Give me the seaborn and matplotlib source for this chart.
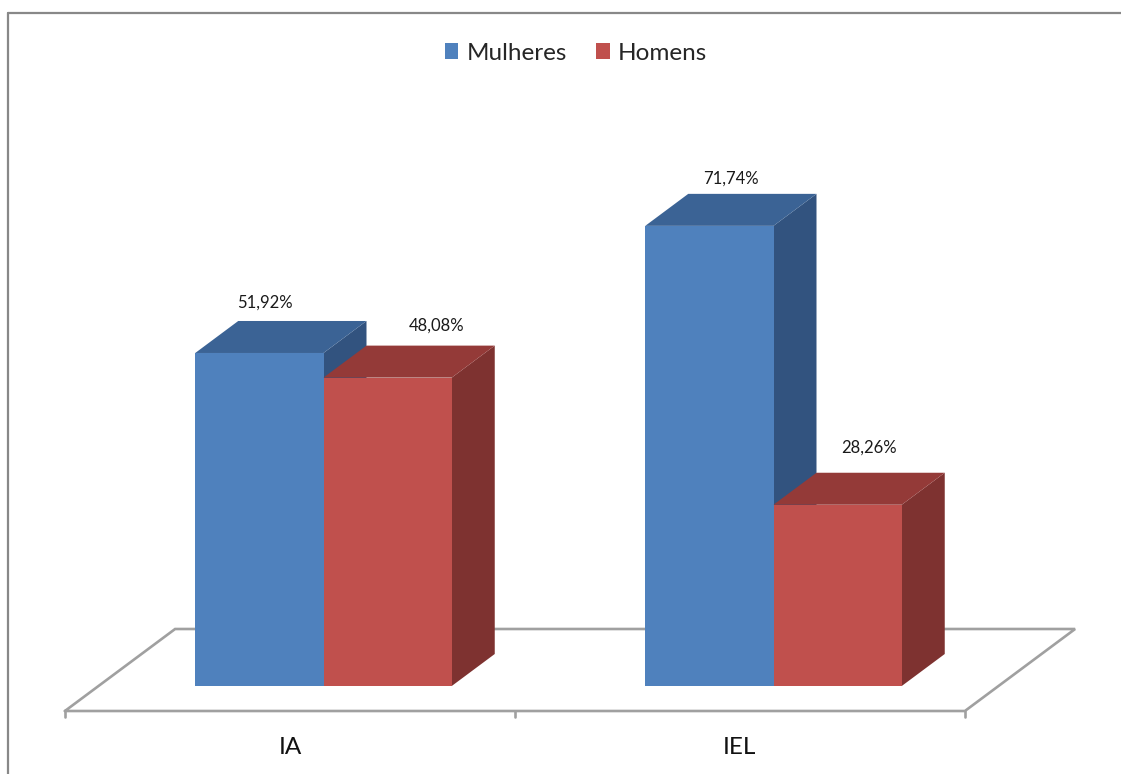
import matplotlib
matplotlib.use("Agg")
import matplotlib.pyplot as plt
import seaborn as sns
import pandas as pd
from matplotlib.patches import Polygon, Rectangle
from matplotlib.lines import Line2D

# ---------------- data ----------------
categories = ["IA", "IEL"]
series = ["Mulheres", "Homens"]
mulheres = [51.92, 71.74]
homens = [48.08, 28.26]

# ---------------- styles ----------------
front_colors = {"Mulheres": "#4F81BD", "Homens": "#C0504D"}
top_colors = {"Mulheres": "#3B6395", "Homens": "#943A38"}
side_colors = {"Mulheres": "#32537F", "Homens": "#7E3230"}
floor_color = "#A0A0A0"

df = pd.DataFrame({
    "Instituto": categories * 2,
    "Sexo": [series[0]] * len(categories) + [series[1]] * len(categories),
    "Valor": mulheres + homens,
})

sns.set_theme(style="white")
plt.rcParams["font.family"] = ["Lato", "DejaVu Sans"]

W, H = 1121, 774
fig = plt.figure(figsize=(W / 100, H / 100), dpi=100)
PX_X = 450.0      # pixels per category unit
PX_Y = 6.414      # pixels per percent
ax = fig.add_axes([98.5 / W, 88 / H, 2 * PX_X / W, 100 * PX_Y / H])

sns.barplot(data=df, x="Instituto", y="Valor", hue="Sexo", order=categories,
            hue_order=series, palette=front_colors, width=0.57, saturation=1,
            legend=False, ax=ax, edgecolor="none", linewidth=0)
ax.set_xlim(-0.5, 1.5)
ax.set_ylim(0, 100)
ax.axis("off")

# depth of bars (in pixels) converted to data units
DXp, DYp = 43.0, 32.0
dx, dy = DXp / PX_X, DYp / PX_Y

bars = [p for p in ax.patches if isinstance(p, Rectangle) and p.get_height() > 0]
bars.sort(key=lambda p: p.get_x())
hue_of = {}
for p in bars:
    fc = matplotlib.colors.to_hex(p.get_facecolor())
    hue_of[p] = "Mulheres" if fc.lower() == front_colors["Mulheres"].lower() else "Homens"

for i, p in enumerate(bars):
    x0, w, h = p.get_x(), p.get_width(), p.get_height()
    s = hue_of[p]
    z = 3 + i * 0.3
    side = Polygon([(x0 + w, 0), (x0 + w + dx, dy), (x0 + w + dx, h + dy), (x0 + w, h)],
                   closed=True, facecolor=side_colors[s], edgecolor="none", zorder=z, clip_on=False)
    top = Polygon([(x0, h), (x0 + w, h), (x0 + w + dx, h + dy), (x0 + dx, h + dy)],
                  closed=True, facecolor=top_colors[s], edgecolor="none", zorder=z + 0.1, clip_on=False)
    ax.add_patch(side)
    ax.add_patch(top)
    p.set_zorder(z + 0.2)
    p.set_clip_on(False)

# data labels
label_offsets_px = [(6, -50), (49, -52), (22, -47), (31, -57)]
for p, (ox, oy) in zip(bars, label_offsets_px):
    h = p.get_height()
    txt = f"{h:.2f}%".replace(".", ",")
    xc = p.get_x() + p.get_width() / 2 + ox / PX_X
    yc = h - oy / PX_Y
    ax.text(xc, yc, txt, ha="center", va="center", fontsize=12, color="#1a1a1a",
            zorder=10, clip_on=False)

# floor (3D base)
front_margin_px = 25.0
floor_depth_px = 82.0
k = DXp / DYp
fy0 = -front_margin_px / PX_Y
fx_shift0 = -front_margin_px * k / PX_X
fy1 = (floor_depth_px - front_margin_px) / PX_Y
fx_shift1 = (floor_depth_px - front_margin_px) * k / PX_X
xl, xr = -0.5, 1.5
floor_pts = [(xl + fx_shift0, fy0), (xr + fx_shift0, fy0), (xr + fx_shift1, fy1),
             (xl + fx_shift1, fy1), (xl + fx_shift0, fy0)]
ax.add_line(Line2D([p[0] for p in floor_pts], [p[1] for p in floor_pts], color=floor_color,
                   lw=1.9, zorder=1, clip_on=False, solid_joinstyle="miter"))
tick_len = 6 / PX_Y
for t in [-0.5, 0.5, 1.5]:
    ax.add_line(Line2D([t + fx_shift0, t + fx_shift0], [fy0, fy0 - tick_len], color=floor_color,
                       lw=1.9, zorder=1, clip_on=False))
for i, c in enumerate(categories):
    ax.text(i + fx_shift0, fy0 - 37 / PX_Y, c, ha="center", va="center", fontsize=17.5,
            color="#111111", clip_on=False)

# legend
handles = [Rectangle((0, 0), 1, 1, facecolor=front_colors[s], edgecolor="none") for s in series]
fig.legend(handles, series, loc="center", bbox_to_anchor=(576 / W, 1 - 53 / H), ncol=2,
           frameon=False, fontsize=17.5, handlelength=0.55, handleheight=0.6,
           handletextpad=0.35, columnspacing=1.2)

# chart area border (top and left)
fig.add_artist(Line2D([8 / W, 1.0], [1 - 13 / H, 1 - 13 / H], transform=fig.transFigure,
                      color="#888888", lw=1.6))
fig.add_artist(Line2D([8 / W, 8 / W], [0, 1 - 13 / H], transform=fig.transFigure,
                      color="#888888", lw=1.6))

fig.savefig("out.png", dpi=100, facecolor="white")
